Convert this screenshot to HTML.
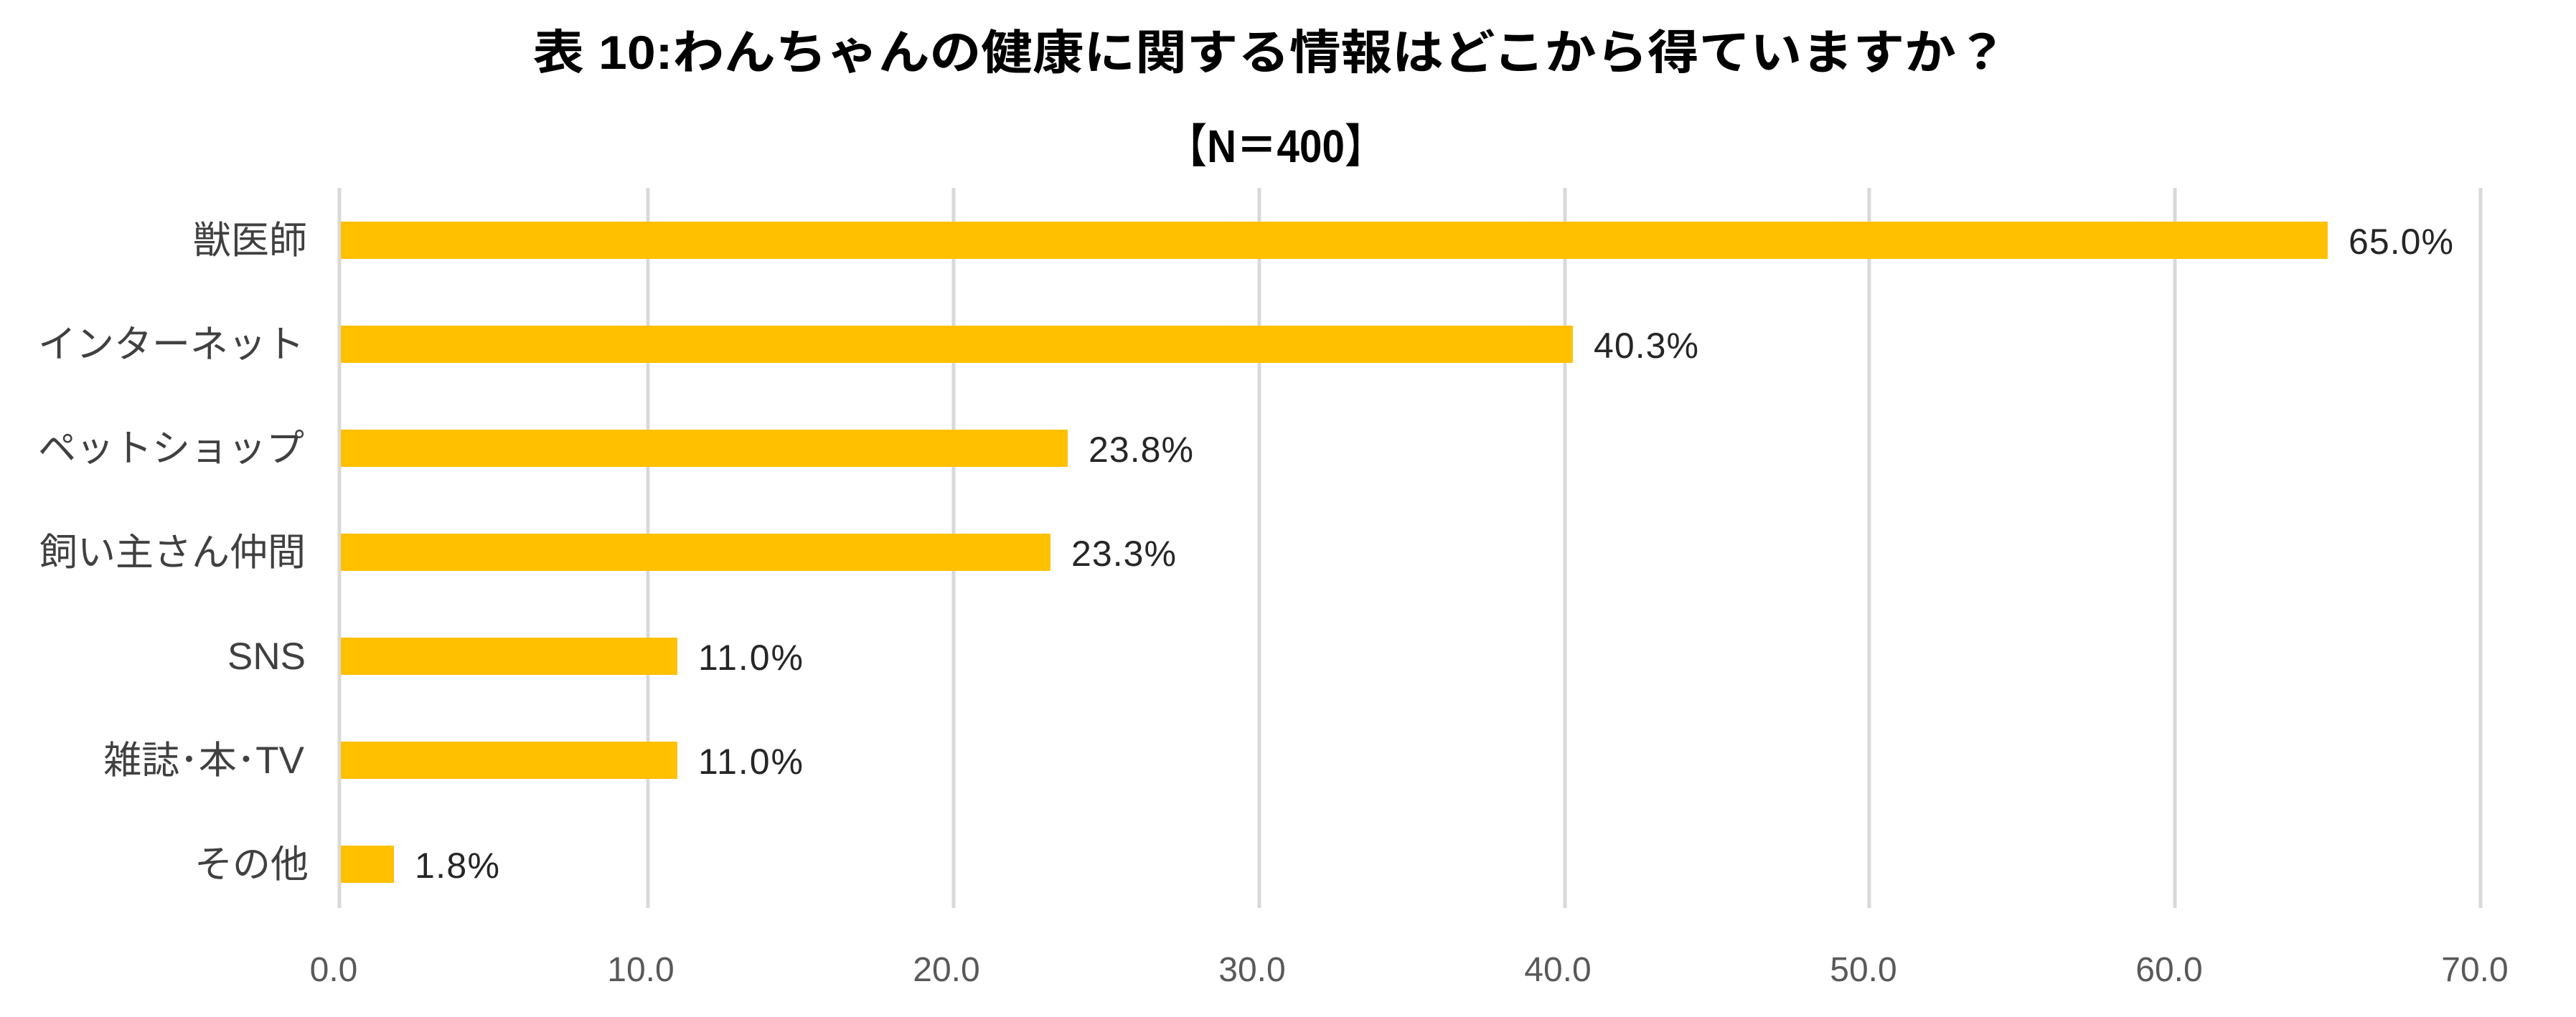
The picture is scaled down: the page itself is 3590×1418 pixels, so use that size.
<!DOCTYPE html>
<html><head><meta charset="utf-8"><style>
html,body{margin:0;padding:0;background:#fff;}
svg{display:block;}
</style></head><body>
<svg width="3590" height="1418" viewBox="0 0 3590 1418" xmlns="http://www.w3.org/2000/svg">
<rect width="3590" height="1418" fill="#fff"/>
<g font-family="'Liberation Sans','Noto Sans CJK JP',sans-serif" font-weight="bold" fill="#000" text-anchor="middle">
<text x="1770" y="96" font-size="66" textLength="2055" lengthAdjust="spacingAndGlyphs">表 10:わんちゃんの健康に関する情報はどこから得ていますか？</text>
<text x="1778" y="226" font-size="64" textLength="305" lengthAdjust="spacingAndGlyphs">【N＝400】</text>
</g>
<g stroke="#d9d9d9" stroke-width="5">
<line x1="473" y1="262" x2="473" y2="1266"/>
<line x1="903" y1="262" x2="903" y2="1266"/>
<line x1="1329" y1="262" x2="1329" y2="1266"/>
<line x1="1755" y1="262" x2="1755" y2="1266"/>
<line x1="2181" y1="262" x2="2181" y2="1266"/>
<line x1="2605" y1="262" x2="2605" y2="1266"/>
<line x1="3031" y1="262" x2="3031" y2="1266"/>
<line x1="3457" y1="262" x2="3457" y2="1266"/>
</g>
<g fill="#ffc000">
<rect x="475" y="309" width="2769" height="52"/>
<rect x="475" y="454" width="1717" height="52"/>
<rect x="475" y="599" width="1013" height="52"/>
<rect x="475" y="744" width="989" height="52"/>
<rect x="475" y="889" width="469" height="52"/>
<rect x="475" y="1034" width="469" height="52"/>
<rect x="475" y="1179" width="74" height="52"/>
</g>
<g font-family="'Liberation Sans','Noto Sans CJK JP',sans-serif" font-size="53" fill="#404040" text-anchor="end">
<text x="428" y="353">獣医師</text>
<text x="424" y="498">インターネット</text>
<text x="424" y="643">ペットショップ</text>
<text x="426" y="788">飼い主さん仲間</text>
<text x="426" y="933">SNS</text>
<text x="424" y="1078">雑誌･本･TV</text>
<text x="430" y="1223">その他</text>
</g>
<g font-family="'Liberation Sans',sans-serif" font-size="50" fill="#262626">
<text x="3273" y="354" textLength="146" lengthAdjust="spacing">65.0%</text>
<text x="2221" y="499" textLength="146" lengthAdjust="spacing">40.3%</text>
<text x="1517" y="644" textLength="146" lengthAdjust="spacing">23.8%</text>
<text x="1493" y="789" textLength="146" lengthAdjust="spacing">23.3%</text>
<text x="973" y="934" textLength="146" lengthAdjust="spacing">11.0%</text>
<text x="973" y="1079" textLength="146" lengthAdjust="spacing">11.0%</text>
<text x="578" y="1224" textLength="118" lengthAdjust="spacing">1.8%</text>
</g>
<g font-family="'Liberation Sans',sans-serif" font-size="48" fill="#595959" text-anchor="middle">
<text x="465" y="1368">0.0</text>
<text x="893" y="1368">10.0</text>
<text x="1319" y="1368">20.0</text>
<text x="1745" y="1368">30.0</text>
<text x="2171" y="1368">40.0</text>
<text x="2597" y="1368">50.0</text>
<text x="3023" y="1368">60.0</text>
<text x="3449" y="1368">70.0</text>
</g>
</svg>
</body></html>
